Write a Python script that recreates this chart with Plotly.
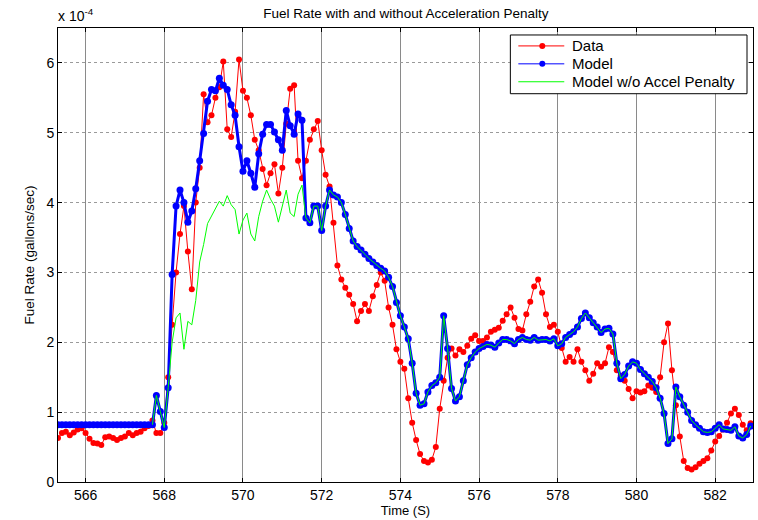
import numpy as np
import plotly.graph_objects as go

# ---- data (fuel rate in units of 1e-4 gallons/sec), sampled every 0.1 s from 565.3 s ----
t_start = 565.3
t_step = 0.1

data_rate = [
    0.63, 0.70, 0.72, 0.67, 0.71, 0.75, 0.77, 0.70, 0.62, 0.56,
    0.55, 0.53, 0.64, 0.65, 0.63, 0.60, 0.63, 0.65, 0.70, 0.67,
    0.70, 0.72, 0.77, 0.80, 0.88, 0.70, 0.70, 0.85, 1.50, 2.25,
    3.00, 3.55, 3.95, 3.30, 2.76, 4.00, 4.50, 5.55, 5.15, 5.25,
    5.50, 5.65, 6.02, 5.05, 4.94, 5.30, 6.05, 5.60, 5.50, 5.25,
    4.90, 4.75, 4.48, 4.25, 4.42, 4.55, 4.13, 4.50, 5.13, 5.63,
    5.68, 4.60, 4.35, 4.60, 4.90, 5.05, 5.17, 4.75, 4.40, 4.23,
    3.71, 3.10, 2.90, 2.78, 2.68, 2.55, 2.30, 2.45, 2.55, 2.45,
    2.66, 2.82, 3.00, 2.88, 2.50, 2.25, 1.90, 1.72, 1.62, 1.20,
    0.85, 0.60, 0.40, 0.30, 0.28, 0.32, 0.50, 1.05, 1.45, 1.78,
    1.91, 1.81, 1.90, 1.86, 1.95, 2.05, 2.10, 2.02, 2.02, 2.07,
    2.15, 2.18, 2.21, 2.31, 2.40, 2.50, 2.35, 2.19, 2.17, 2.40,
    2.58, 2.80, 2.90, 2.71, 2.40, 2.22, 2.25, 2.15, 1.92, 1.72,
    1.79, 1.72, 1.90, 1.72, 1.60, 1.45, 1.55, 1.70, 1.65, 1.70,
    1.93, 1.86, 1.60, 1.52, 1.45, 1.33, 1.20, 1.30, 1.28, 1.30,
    1.38, 1.35, 1.29, 1.50, 2.00, 2.27, 1.60, 1.10, 0.65, 0.30,
    0.20, 0.18, 0.21, 0.26, 0.30, 0.34, 0.45, 0.58, 0.66, 0.75,
    0.85, 0.98, 1.05, 0.96, 0.82, 0.74, 0.84,
]

model_rate = [
    0.82, 0.82, 0.82, 0.82, 0.82, 0.82, 0.82, 0.82, 0.82, 0.82,
    0.82, 0.82, 0.82, 0.82, 0.82, 0.82, 0.82, 0.82, 0.82, 0.82,
    0.82, 0.82, 0.82, 0.82, 0.82, 1.24, 1.01, 0.78, 1.35, 2.97,
    3.95, 4.18, 4.00, 3.72, 3.88, 4.20, 4.60, 4.99, 5.45, 5.62,
    5.60, 5.78, 5.68, 5.62, 5.40, 5.25, 4.80, 4.45, 4.60, 4.42,
    4.22, 4.70, 4.98, 5.12, 5.12, 5.01, 4.90, 4.75, 5.32, 5.10,
    4.98, 5.27, 5.18, 3.78, 3.71, 3.95, 3.95, 3.60, 3.95, 4.18,
    4.11, 4.08, 4.00, 3.83, 3.63, 3.45, 3.37, 3.32, 3.26, 3.20,
    3.15, 3.10, 3.06, 3.02, 2.93, 2.80, 2.57, 2.38, 2.22, 2.05,
    1.70, 1.27, 1.10, 1.12, 1.29, 1.38, 1.42, 1.50, 2.38, 1.91,
    1.34, 1.16, 1.22, 1.45, 1.68, 1.78, 1.86, 1.91, 1.94, 1.97,
    1.96, 1.93, 1.99, 2.04, 2.04, 2.02, 1.98, 2.04, 2.07, 2.04,
    2.03, 2.07, 2.03, 2.04, 2.04, 2.02, 2.05, 1.95, 1.98, 2.07,
    2.11, 2.15, 2.22, 2.34, 2.42, 2.35, 2.28, 2.22, 2.14, 2.19,
    2.20, 2.12, 1.70, 1.48, 1.54, 1.66, 1.72, 1.70, 1.61, 1.55,
    1.50, 1.44, 1.35, 1.20, 0.98, 0.55, 0.62, 1.36, 1.22, 1.10,
    1.00, 0.88, 0.82, 0.77, 0.72, 0.71, 0.72, 0.77, 0.82, 0.76,
    0.75, 0.74, 0.79, 0.66, 0.63, 0.68, 0.80,
]

# Model without acceleration penalty: shown from 567.7 s; identical to the model
# except on the stretch below
no_accel_first = 567.7
no_accel_start = 568.2
no_accel_segment = [
    2.00, 2.35, 2.42, 1.90, 2.30, 2.25, 2.60, 3.15, 3.40, 3.70,
    3.80, 3.90, 4.02, 3.95, 4.10, 3.97, 3.90, 3.55, 3.75, 3.85,
    3.55, 3.45, 3.80, 4.02, 4.18, 4.05, 3.95, 3.72, 3.95, 4.18,
    3.85, 3.80, 4.12, 4.25,
]

series_names = ["Data", "Model", "Model w/o Accel Penalty"]
series_colors = ["#ff0000", "#0000ff", "#00ff00"]
x_ticks = [566, 568, 570, 572, 574, 576, 578, 580, 582]
y_ticks = [0, 1, 2, 3, 4, 5, 6]
scale = 1e-4

# ---- build series ----
t = np.round(t_start + t_step * np.arange(len(data_rate)), 2)
data_y = np.array(data_rate) * scale
model_y = np.array(model_rate) * scale
noacc = np.array(model_rate, dtype=float)
i0 = int(round((no_accel_start - t_start) / t_step))
noacc[i0:i0 + len(no_accel_segment)] = no_accel_segment
i_first = int(round((no_accel_first - t_start) / t_step))
noacc_t = t[i_first:]
noacc_y = noacc[i_first:] * scale

FONT = "Liberation Sans, Arial, Helvetica, sans-serif"

fig = go.Figure()
fig.add_trace(go.Scatter(x=t, y=data_y, name=series_names[0], mode="lines+markers",
                         line=dict(color=series_colors[0], width=1),
                         marker=dict(color=series_colors[0], size=6)))
fig.add_trace(go.Scatter(x=t, y=model_y, name=series_names[1], mode="lines+markers",
                         line=dict(color=series_colors[1], width=3),
                         marker=dict(color=series_colors[1], size=7)))
fig.add_trace(go.Scatter(x=noacc_t, y=noacc_y, name=series_names[2], mode="lines",
                         line=dict(color=series_colors[2], width=1)))

# plot-area geometry in pixels (for the MATLAB-style legend box)
L, R, T, B = 58, 754, 28, 484
W, H = 758, 520


def px(xp):
    return (xp - L) / (R - L)


def py(yp):
    return (B - yp) / (B - T)


shapes = [dict(type="rect", xref="paper", yref="paper", layer="above",
               x0=px(511), x1=px(748), y0=py(94), y1=py(35),
               line=dict(color="black", width=1), fillcolor="white")]
annotations = []
row_y = [46, 64, 82]
for i, (name, col) in enumerate(zip(series_names, series_colors)):
    yy = py(row_y[i])
    shapes.append(dict(type="line", xref="paper", yref="paper", layer="above",
                       x0=px(519), x1=px(565), y0=yy, y1=yy,
                       line=dict(color=col, width=1)))
    if i < 2:
        r = 3
        shapes.append(dict(type="circle", xref="paper", yref="paper", layer="above",
                           x0=px(543 - r), x1=px(543 + r),
                           y0=py(row_y[i] + r), y1=py(row_y[i] - r),
                           line=dict(color=col, width=0), fillcolor=col))
    annotations.append(dict(text=name, xref="paper", yref="paper", x=px(571), y=yy,
                            xanchor="left", yanchor="middle", showarrow=False,
                            font=dict(size=15)))

annotations.append(dict(text="x 10<sup>-4</sup>", xref="paper", yref="paper",
                        x=0, y=1, xanchor="left", yanchor="bottom", yshift=2, xshift=-2,
                        showarrow=False, font=dict(size=14)))

fig.update_layout(
    width=W, height=H,
    margin=dict(l=L, r=W - R, t=T, b=H - B),
    paper_bgcolor="white", plot_bgcolor="white",
    font=dict(family=FONT, size=13, color="black"),
    title=dict(text="Fuel Rate with and without Acceleration Penalty",
               x=0.5355, xanchor="center", y=0.975, yanchor="middle",
               font=dict(size=13.5)),
    showlegend=False,
    shapes=shapes,
    annotations=annotations,
)

fig.update_xaxes(
    range=[565.3, 582.96], tickvals=x_ticks, ticktext=[str(v) for v in x_ticks],
    ticks="inside", ticklen=4, tickcolor="black",
    showline=True, linecolor="black", linewidth=1, mirror="ticks",
    showgrid=True, gridcolor="#8a8a8a", gridwidth=1, griddash="solid",
    zeroline=False, tickfont=dict(size=14),
    title=dict(text="Time (S)", font=dict(size=13), standoff=4),
)
fig.update_yaxes(
    range=[0, 6.5e-4], tickvals=[v * scale for v in y_ticks], ticktext=[str(v) for v in y_ticks],
    ticks="inside", ticklen=4, tickcolor="black",
    showline=True, linecolor="black", linewidth=1, mirror="ticks",
    showgrid=True, gridcolor="#9a9a9a", gridwidth=1, griddash="dot",
    zeroline=False, tickfont=dict(size=14),
    title=dict(text="Fuel Rate (gallons/sec)", font=dict(size=13.5), standoff=8),
)

fig.write_html("out.html", config={"displayModeBar": False},
               post_script="document.body.style.margin='0';")
